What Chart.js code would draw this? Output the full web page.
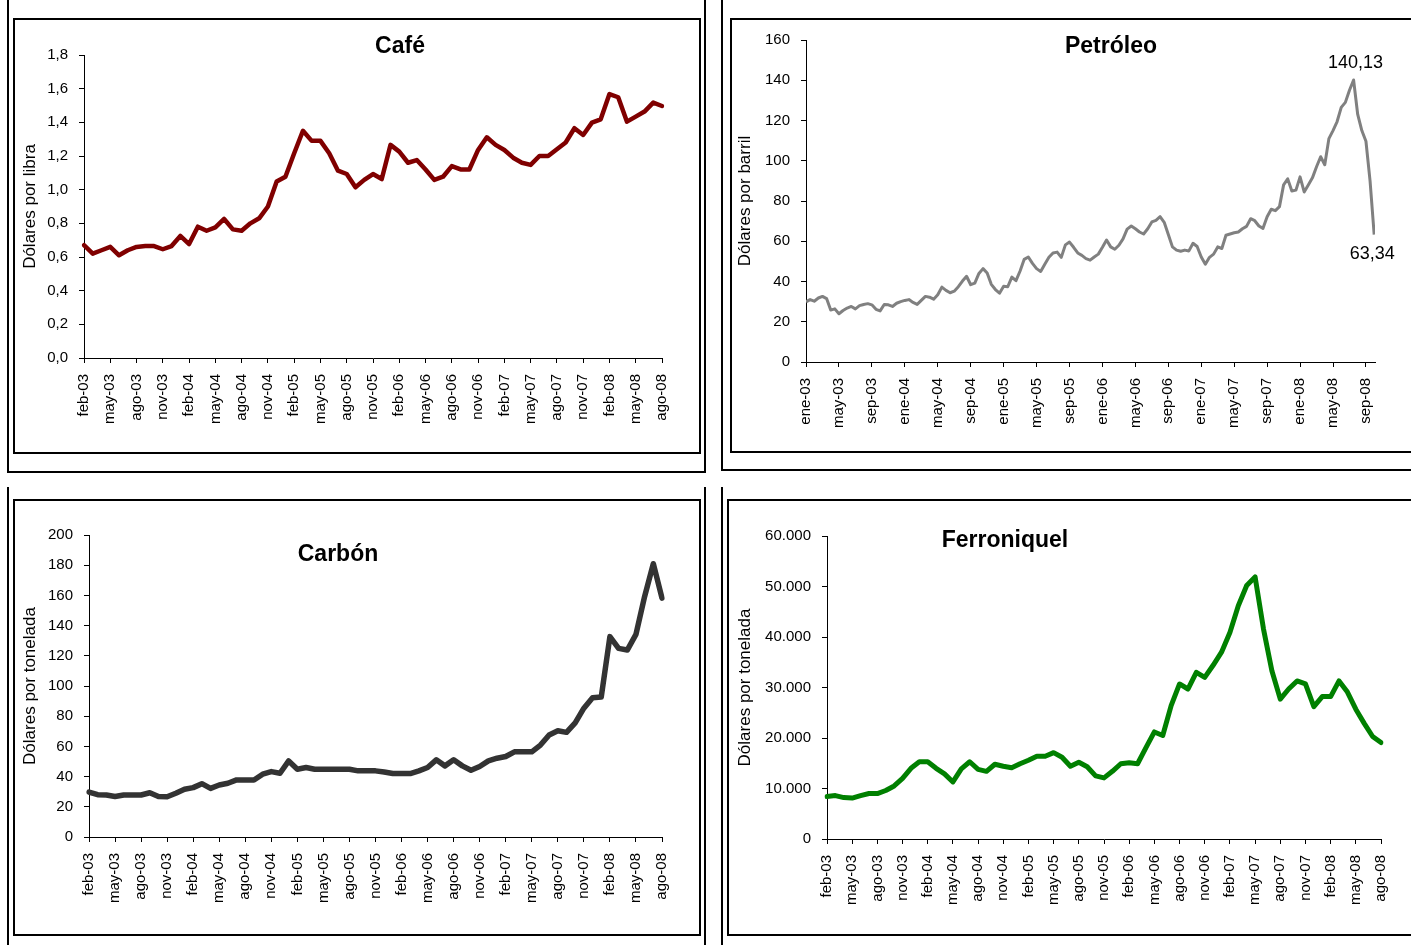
<!DOCTYPE html>
<html>
<head>
<meta charset="utf-8">
<script src="https://cdn.jsdelivr.net/npm/chart.js@4.4.1/dist/chart.umd.min.js"></script>
<style>
  body { margin: 0; background: #fff; width: 1411px; height: 945px; position: relative; overflow: hidden; }
  .line { position: absolute; background: #000; }
  .frame { position: absolute; border: 2px solid #000; box-sizing: border-box; }
  .box { position: absolute; }
</style>
</head>
<body>
<!-- marcos exteriores -->
<div class="line" style="left:7px;top:0;width:2px;height:473px"></div>
<div class="line" style="left:7px;top:471px;width:699px;height:2px"></div>
<div class="line" style="left:704px;top:0;width:2px;height:473px"></div>
<div class="line" style="left:721px;top:0;width:2px;height:471px"></div>
<div class="line" style="left:721px;top:469px;width:690px;height:2px"></div>
<div class="line" style="left:7px;top:487px;width:2px;height:458px"></div>
<div class="line" style="left:704px;top:487px;width:2px;height:458px"></div>
<div class="line" style="left:721px;top:487px;width:2px;height:458px"></div>
<!-- marcos de los graficos -->
<div class="frame" style="left:13px;top:18px;width:688px;height:436px"></div>
<div class="frame" style="left:730px;top:18px;width:700px;height:435px"></div>
<div class="frame" style="left:13px;top:499px;width:688px;height:437px"></div>
<div class="frame" style="left:727px;top:499px;width:700px;height:437px"></div>

<div class="box" style="left:15px;top:20px"><canvas id="cafe" width="684" height="432"></canvas></div>
<div class="box" style="left:732px;top:20px"><canvas id="petroleo" width="679" height="431"></canvas></div>
<div class="box" style="left:15px;top:501px"><canvas id="carbon" width="684" height="433"></canvas></div>
<div class="box" style="left:729px;top:501px"><canvas id="ferro" width="682" height="433"></canvas></div>

<script>
// datos
const mesesAbr = ['ene', 'feb', 'mar', 'abr', 'may', 'jun', 'jul', 'ago', 'sep', 'oct', 'nov', 'dic'];
// feb-03 ... ago-08 (mensual)
const meses = [];
for (let i = 0; i < 67; i++) {
  const m = (1 + i) % 12, a = 3 + Math.floor((1 + i) / 12);
  meses.push(mesesAbr[m] + '-0' + a);
}

const cafe = [0.67, 0.62, 0.64, 0.66, 0.61, 0.64, 0.66, 0.665, 0.665, 0.646,
  0.665, 0.725, 0.677, 0.78, 0.756, 0.776, 0.826, 0.764, 0.756, 0.80,
  0.83, 0.90, 1.048, 1.077, 1.216, 1.35, 1.29, 1.29, 1.216, 1.113,
  1.093, 1.014, 1.058, 1.093, 1.063, 1.266, 1.226, 1.16, 1.176, 1.12,
  1.058, 1.077, 1.14, 1.12, 1.12, 1.236, 1.311, 1.266, 1.236, 1.19,
  1.16, 1.147, 1.20, 1.20, 1.24, 1.28, 1.365, 1.325, 1.398, 1.418,
  1.568, 1.549, 1.404, 1.434, 1.464, 1.517, 1.497];

const carbon = [29.8, 28.0, 27.8, 26.8, 27.8, 27.8, 27.8, 29.3, 26.8, 26.7,
  29.0, 31.6, 32.7, 35.3, 32.2, 34.4, 35.6, 37.8, 37.8, 37.8,
  41.6, 43.3, 42.2, 50.4, 44.9, 46.0, 44.9, 44.9, 44.9, 44.9,
  44.9, 43.8, 43.8, 43.8, 43.0, 42.0, 42.0, 42.0, 43.8, 46.0,
  51.1, 47.1, 51.1, 47.1, 44.2, 46.7, 50.4, 52.2, 53.3, 56.4,
  56.4, 56.4, 60.9, 67.6, 70.4, 69.3, 75.6, 85.3, 92.2, 92.7,
  132.7, 124.9, 123.8, 134.2, 159.3, 181.0, 158.2];

const ferroniquel = [8400, 8600, 8200, 8100, 8600, 9000, 9000, 9600, 10500, 12000,
  14000, 15300, 15300, 14000, 12900, 11300, 13900, 15300, 13800, 13400,
  14800, 14400, 14100, 14900, 15600, 16400, 16400, 17100, 16200, 14400,
  15200, 14300, 12500, 12100, 13400, 14900, 15100, 14900, 18100, 21200,
  20500, 26400, 30700, 29700, 33000, 32000, 34400, 37000, 40900, 46200,
  50200, 51900, 41600, 33300, 27700, 29700, 31300, 30700, 26200, 28200,
  28200, 31300, 29100, 25700, 22900, 20300, 19100];

// petroleo: cada medio mes desde ene-03
const petroleo = [29.9, 31.0, 30.2, 31.8, 32.6, 31.5, 25.8, 26.4, 24.0, 25.6,
  26.8, 27.6, 26.4, 28.0, 28.6, 29.0, 28.4, 26.2, 25.4, 28.6,
  28.4, 27.6, 29.2, 30.0, 30.6, 31.0, 29.6, 28.6, 30.6, 32.6,
  32.2, 31.2, 33.4, 37.2, 35.6, 34.4, 35.2, 37.4, 40.2, 42.6,
  38.4, 39.2, 44.0, 46.4, 44.2, 38.6, 36.0, 34.2, 37.6, 37.4,
  42.2, 40.4, 45.2, 51.0, 52.2, 49.0, 46.4, 45.0, 48.6, 52.0,
  54.2, 54.6, 52.0, 58.2, 59.6, 57.0, 54.2, 53.0, 51.4, 50.6,
  52.2, 53.6, 57.0, 60.6, 57.2, 56.0, 58.0, 61.2, 66.0, 67.6,
  66.2, 64.6, 63.6, 66.2, 69.6, 70.4, 72.2, 69.4, 63.4, 57.2,
  55.6, 55.0, 55.6, 55.2, 59.0, 57.4, 52.2, 48.6, 52.0, 53.6,
  57.2, 56.4, 63.0, 63.6, 64.2, 64.6, 66.2, 67.4, 71.2, 70.2,
  67.6, 66.4, 72.2, 75.9, 75.2, 77.2, 88.0, 91.0, 85.0, 85.4,
  92.0, 84.5, 88.0, 91.5, 97.0, 102.0, 98.0, 111.0, 115.0, 119.5,
  126.5, 129.0, 135.0, 140.13, 123.0, 115.0, 109.7, 90.0, 63.34];
const petroleoEtiquetas = ['ene-03', 'may-03', 'sep-03', 'ene-04', 'may-04', 'sep-04', 'ene-05', 'may-05', 'sep-05',
  'ene-06', 'may-06', 'sep-06', 'ene-07', 'may-07', 'sep-07', 'ene-08', 'may-08', 'sep-08'];

const FONT = '"Liberation Sans", Arial, sans-serif';
const coma = (v, d) => v.toFixed(d).replace('.', ',');
const miles = v => String(v).replace(/\B(?=(\d{3})+(?!\d))/g, '.');

// titulo dentro del area del grafico
const tituloPlugin = {
  id: 'tituloPanel',
  afterDraw(chart, args, opts) {
    const ctx = chart.ctx;
    ctx.save();
    ctx.font = 'bold 23px ' + FONT;
    ctx.fillStyle = '#000';
    ctx.textAlign = 'center';
    ctx.textBaseline = 'middle';
    ctx.fillText(opts.texto, opts.x, opts.y);
    ctx.restore();
  }
};

function ejeY(min, max, step, fmt, titulo, ancho, pad) {
  return {
    min: min, max: max,
    ticks: { stepSize: step, color: '#000', font: { size: 15, family: FONT }, padding: 11, callback: fmt },
    grid: { drawOnChartArea: false, drawTicks: true, tickLength: 5, color: '#000' },
    border: { display: true, color: '#000', width: 1 },
    title: { display: true, text: titulo, color: '#000', font: { size: 17, family: FONT }, padding: { top: pad, bottom: 0 } },
    afterFit: s => { s.width = ancho; }
  };
}

function ejeX(alto) {
  return {
    type: 'category', offset: false,
    ticks: { autoSkip: false, maxRotation: 90, minRotation: 90, color: '#000', font: { size: 15, family: FONT }, padding: 11 },
    grid: { drawOnChartArea: false, drawTicks: true, tickLength: 5, color: '#000', offset: false },
    border: { display: true, color: '#000', width: 1 },
    afterBuildTicks: s => { s.ticks = s.ticks.filter((t, i) => i % 3 === 0); },
    afterFit: s => { s.height = alto; }
  };
}

function grafico(id, serie, color, ancho, ejeYcfg, altoX, padding, titulo) {
  return new Chart(document.getElementById(id), {
    type: 'line',
    data: {
      labels: meses,
      datasets: [{ data: serie, borderColor: color, borderWidth: ancho, pointRadius: 0, tension: 0,
        borderJoinStyle: 'round', borderCapStyle: 'round', fill: false }]
    },
    options: {
      responsive: false, animation: false, devicePixelRatio: 1,
      layout: { padding: padding },
      scales: { x: ejeX(altoX), y: ejeYcfg },
      plugins: { legend: { display: false }, tooltip: { enabled: false }, tituloPanel: titulo }
    },
    plugins: [tituloPlugin]
  });
}

grafico('cafe', cafe, '#800000', 4.5,
  ejeY(0, 1.8, 0.2, v => coma(v, 1), 'Dólares por libra', 69, 5),
  94, { top: 35, right: 37, left: 0, bottom: 0 },
  { texto: 'Café', x: 385, y: 27 });

grafico('carbon', carbon, '#333333', 5.5,
  ejeY(0, 200, 20, v => String(v), 'Dólares por tonelada', 74, 5),
  97, { top: 34, right: 37, left: 0, bottom: 0 },
  { texto: 'Carbón', x: 323, y: 54 });

grafico('ferro', ferroniquel, '#008000', 5,
  ejeY(0, 60000, 10000, v => miles(v), 'Dólares por tonelada', 98, 6),
  95, { top: 35, right: 30, left: 0, bottom: 0 },
  { texto: 'Ferroniquel', x: 276, y: 40 });

// petroleo (escala lineal en meses desde ene-03)
const anotaPlugin = {
  id: 'anotaPetroleo',
  afterDatasetsDraw(chart) {
    const ctx = chart.ctx, xs = chart.scales.x, ys = chart.scales.y;
    const iMax = petroleo.indexOf(Math.max(...petroleo));
    const iFin = petroleo.length - 1;
    ctx.save();
    ctx.font = '18px ' + FONT;
    ctx.fillStyle = '#000';
    ctx.textAlign = 'center';
    ctx.textBaseline = 'middle';
    ctx.fillText(coma(petroleo[iMax], 2), xs.getPixelForValue(iMax / 2) + 2, ys.getPixelForValue(petroleo[iMax]) - 17);
    ctx.fillText(coma(petroleo[iFin], 2), xs.getPixelForValue(iFin / 2) - 2, ys.getPixelForValue(petroleo[iFin]) + 20);
    ctx.restore();
  }
};

new Chart(document.getElementById('petroleo'), {
  type: 'line',
  data: {
    datasets: [{ data: petroleo.map((v, i) => ({ x: i / 2, y: v })), borderColor: '#808080', borderWidth: 3,
      pointRadius: 0, tension: 0, borderJoinStyle: 'round', fill: false }]
  },
  options: {
    responsive: false, animation: false, devicePixelRatio: 1,
    layout: { padding: { top: 18, right: 36, left: 0, bottom: 0 } },
    scales: {
      x: {
        type: 'linear', min: 0, max: 69.1,
        ticks: { autoSkip: false, maxRotation: 90, minRotation: 90, color: '#000', font: { size: 15, family: FONT }, padding: 11,
          callback: v => petroleoEtiquetas[v / 4] },
        grid: { drawOnChartArea: false, drawTicks: true, tickLength: 5, color: '#000' },
        border: { display: true, color: '#000', width: 1 },
        afterBuildTicks: s => { s.ticks = petroleoEtiquetas.map((e, i) => ({ value: i * 4 })); },
        afterFit: s => { s.height = 89; }
      },
      y: ejeY(0, 160, 20, v => String(v), 'Dólares por barril', 74, 3)
    },
    plugins: { legend: { display: false }, tooltip: { enabled: false },
      tituloPanel: { texto: 'Petróleo', x: 379, y: 27 } }
  },
  plugins: [tituloPlugin, anotaPlugin]
});
</script>
</body>
</html>
